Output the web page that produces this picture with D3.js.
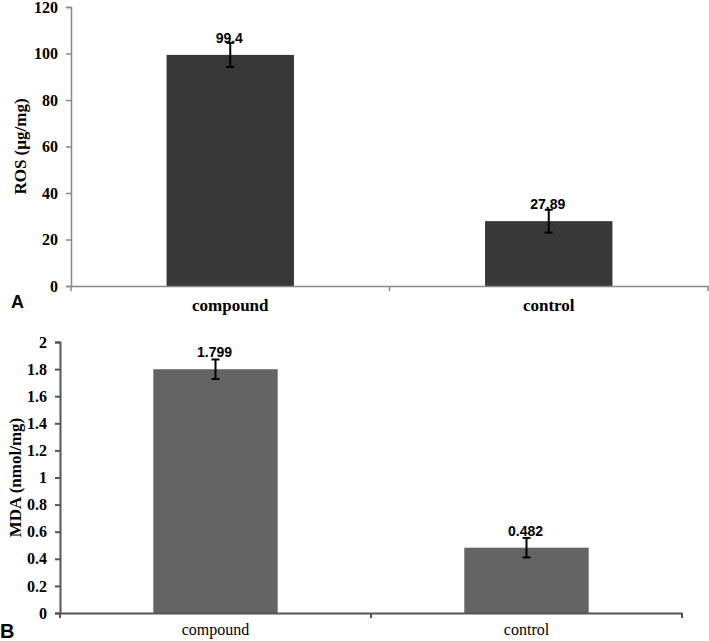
<!DOCTYPE html>
<html>
<head>
<meta charset="utf-8">
<script src="https://cdn.jsdelivr.net/npm/d3@7"></script>
<style>
  body { margin: 0; background: #fff; }
  svg { display: block; }
</style>
</head>
<body>
<div id="chart"></div>
<script>
const categories = ['compound', 'control']
const rosValues = [99.4, 27.89]
const rosErrors = [5.2, 4.9]
const rosLabels = ['99.4', '27.89']
const rosTicks = [0, 20, 40, 60, 80, 100, 120]
const mdaValues = [1.799, 0.482]
const mdaErrors = [0.072, 0.072]
const mdaLabels = ['1.799', '0.482']
const mdaTicks = [0, 0.2, 0.4, 0.6, 0.8, 1, 1.2, 1.4, 1.6, 1.8, 2]

const width = 709, height = 641
const svg = d3.select('#chart')
  .append('svg')
  .attr('width', width)
  .attr('height', height)

function drawPanel(opt) {
  const g = svg.append('g')

  const xScale = d3.scaleBand()
    .domain(categories)
    .range([opt.left, opt.right])
    .padding(0)

  const yScale = d3.scaleLinear()
    .domain([0, d3.max(opt.ticks)])
    .range([opt.bottom, opt.top])

  const barW = xScale.bandwidth() * 0.4

  // y axis
  const yAxis = d3.axisLeft(yScale)
    .tickValues(opt.ticks)
    .tickSize(5)
    .tickPadding(8)
    .tickFormat(d => String(+d.toFixed(1)))
  const ya = g.append('g')
    .attr('transform', `translate(${opt.left},0)`)
    .call(yAxis)
  ya.select('.domain').attr('stroke', opt.axisColor).attr('stroke-width', opt.axisWidth)
  ya.selectAll('.tick line').attr('stroke', opt.axisColor).attr('stroke-width', opt.axisWidth)
  ya.selectAll('.tick text')
    .attr('fill', '#000')
    .style('font-family', '"Liberation Serif", "Times New Roman", serif')
    .style('font-size', '16px')
    .style('font-weight', 'bold')

  // bars
  g.selectAll('rect.bar')
    .data(opt.values)
    .enter()
    .append('rect')
    .attr('class', 'bar')
    .attr('x', (d, i) => xScale(categories[i]) + (xScale.bandwidth() - barW) / 2)
    .attr('y', d => yScale(d))
    .attr('width', barW)
    .attr('height', d => opt.bottom - yScale(d))
    .attr('fill', opt.barColor)

  // x axis (drawn over bars)
  const xAxis = d3.axisBottom(xScale).tickSize(0).tickPadding(opt.catPad)
  const xa = g.append('g')
    .attr('transform', `translate(0,${opt.bottom})`)
    .call(xAxis)
  xa.select('.domain').attr('stroke', opt.axisColor).attr('stroke-width', opt.axisWidth)
  xa.selectAll('.tick text')
    .attr('fill', '#000')
    .style('font-family', '"Liberation Serif", "Times New Roman", serif')
    .style('font-size', opt.catSize)
    .style('font-weight', opt.catWeight)
  const bounds = [opt.left].concat(categories.map(c => xScale(c) + xScale.bandwidth()))
  xa.selectAll('line.bound')
    .data(bounds)
    .enter()
    .append('line')
    .attr('x1', d => d).attr('x2', d => d)
    .attr('y1', 0).attr('y2', 5)
    .attr('stroke', opt.axisColor)
    .attr('stroke-width', opt.axisWidth)

  // error bars
  const cx = (d, i) => xScale(categories[i]) + xScale.bandwidth() / 2
  const eb = g.selectAll('g.err')
    .data(opt.values)
    .enter()
    .append('g')
    .attr('class', 'err')
    .attr('stroke', '#000')
    .attr('stroke-width', 2)
  eb.append('line')
    .attr('x1', cx).attr('x2', cx)
    .attr('y1', (d, i) => yScale(d + opt.errors[i]))
    .attr('y2', (d, i) => yScale(d - opt.errors[i]))
  eb.append('line')
    .attr('x1', (d, i) => cx(d, i) - 4).attr('x2', (d, i) => cx(d, i) + 4)
    .attr('y1', (d, i) => yScale(d + opt.errors[i]))
    .attr('y2', (d, i) => yScale(d + opt.errors[i]))
  eb.append('line')
    .attr('x1', (d, i) => cx(d, i) - 4).attr('x2', (d, i) => cx(d, i) + 4)
    .attr('y1', (d, i) => yScale(d - opt.errors[i]))
    .attr('y2', (d, i) => yScale(d - opt.errors[i]))

  // value labels
  g.selectAll('text.val')
    .data(opt.values)
    .enter()
    .append('text')
    .attr('class', 'val')
    .attr('x', (d, i) => cx(d, i) - 1)
    .attr('y', d => yScale(d) - 12)
    .attr('text-anchor', 'middle')
    .style('font-family', '"Liberation Sans", Arial, sans-serif')
    .style('font-size', '14px')
    .style('font-weight', 'bold')
    .text((d, i) => opt.labels[i])

  // y axis title
  g.append('text')
    .attr('transform', `translate(${opt.titleX},${(opt.top + opt.bottom) / 2}) rotate(-90)`)
    .attr('text-anchor', 'middle')
    .style('font-family', '"Liberation Serif", "Times New Roman", serif')
    .style('font-size', '17px')
    .style('font-weight', 'bold')
    .text(opt.title)

  // panel letter
  g.append('text')
    .attr('x', opt.letterX)
    .attr('y', opt.letterY)
    .style('font-family', '"Liberation Sans", Arial, sans-serif')
    .style('font-size', opt.letterSize)
    .style('font-weight', 'bold')
    .text(opt.letter)
}

drawPanel({
  values: rosValues, errors: rosErrors, labels: rosLabels, ticks: rosTicks,
  left: 71, right: 708, top: 7, bottom: 286,
  barColor: '#383838', axisColor: '#888', axisWidth: 1.5,
  catWeight: 'bold', catSize: '17px', catPad: 13,
  title: 'ROS (µg/mg)', titleX: 26,
  letter: 'A', letterX: 11, letterY: 308, letterSize: '18px'
})

drawPanel({
  values: mdaValues, errors: mdaErrors, labels: mdaLabels, ticks: mdaTicks,
  left: 60, right: 682, top: 342, bottom: 613,
  barColor: '#646464', axisColor: '#555', axisWidth: 2,
  catWeight: 'normal', catSize: '16px', catPad: 11,
  title: 'MDA (nmol/mg)', titleX: 21,
  letter: 'B', letterX: 0, letterY: 638, letterSize: '20px'
})
</script>
</body>
</html>
